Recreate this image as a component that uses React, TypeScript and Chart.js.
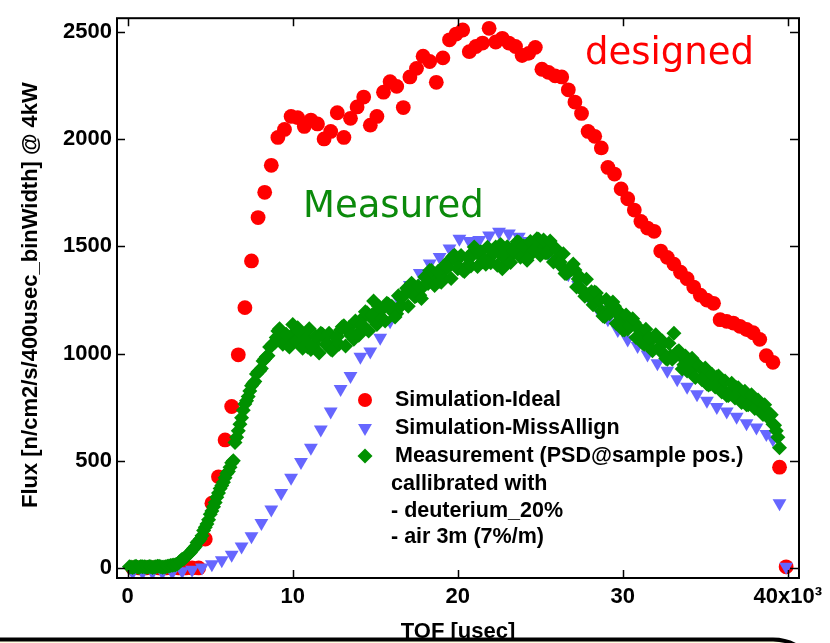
import React, { useEffect, useRef } from 'react';
import { Chart, registerables } from 'chart.js';

Chart.register(...registerables);

const xTickValues = [0, 10000, 20000, 30000, 40000];
const xTickLabels = ['0', '10', '20', '30', '40x10³'];
const yTickValues = [0, 500, 1000, 1500, 2000, 2500];
const yTickLabels = ['0', '500', '1000', '1500', '2000', '2500'];

const xTitle = 'TOF [usec]';
const yTitle = 'Flux [n/cm2/s/400usec_binWidth] @ 4kW';

// Simulation-Ideal (red circles)
const idealX = [300, 700, 1100, 1500, 1900, 2300, 2700, 3100, 3500, 3900, 4300, 4700, 5100, 5500, 5900, 6300, 6700, 7100, 7500, 7900, 8300, 8700, 9100, 9500, 9900, 10300, 10700, 11100, 11500, 11900, 12300, 12700, 13100, 13500, 13900, 14300, 14700, 15100, 15500, 15900, 16300, 16700, 17100, 17500, 17900, 18300, 18700, 19100, 19500, 19900, 20300, 20700, 21100, 21500, 21900, 22300, 22700, 23100, 23500, 23900, 24300, 24700, 25100, 25500, 25900, 26300, 26700, 27100, 27500, 27900, 28300, 28700, 29100, 29500, 29900, 30300, 30700, 31100, 31500, 31900, 32300, 32700, 33100, 33500, 33900, 34300, 34700, 35100, 35500, 35900, 36300, 36700, 37100, 37500, 37900, 38300, 38700, 39100, 39500, 39900];
const idealY = [0, 0, 0, 0, 0, 0, 0, 0, 0, 0, 0,
  135, 302, 425, 597, 753, 994, 1214, 1432, 1634, 1752,
  1878, 2008, 2045, 2106, 2100, 2059, 2089, 2071, 2001, 2036,
  2123, 2008, 2097, 2150, 2196, 2065, 2106, 2219, 2268, 2246,
  2147, 2290, 2330, 2387, 2362, 2265, 2379, 2463, 2490, 2509,
  2408, 2432, 2448, 2517, 2453, 2470, 2448, 2432, 2390, 2400,
  2428, 2326, 2311, 2295, 2290, 2230, 2173, 2120, 2036, 2013,
  1959, 1868, 1837, 1768, 1722, 1669, 1616, 1585, 1570, 1478,
  1448, 1417, 1379, 1349, 1310, 1272, 1249, 1234, 1158, 1150,
  1142, 1127, 1112, 1097, 1066, 990, 959, 470, 5];

// Simulation-MissAllign (blue triangles)
const missX = [300, 900, 1500, 2100, 2700, 3300, 3900, 4500, 5100, 5700, 6300, 6900, 7500, 8100, 8700, 9300, 9900, 10500, 11100, 11700, 12300, 12900, 13500, 14100, 14700, 15300, 15900, 16500, 17100, 17700, 18300, 18900, 19500, 20100, 20700, 21300, 21900, 22500, 23100, 23700, 24300, 24900, 25500, 26100, 26700, 27300, 27900, 28500, 29100, 29700, 30300, 30900, 31500, 32100, 32700, 33300, 33900, 34500, 35100, 35700, 36300, 36900, 37500, 38100, 38700, 39100, 39500, 39900];
const missY = [-20, -20, -20, -20, -20, -15, -8, 2, 17, 36,
  62, 100, 148, 210, 272, 350, 420, 494, 560, 646,
  730, 835, 895, 985, 1010, 1074, 1150, 1240, 1320, 1375,
  1420, 1450, 1490, 1535, 1525, 1530, 1550, 1568, 1560, 1545,
  1525, 1500, 1465, 1420, 1370, 1320, 1265, 1205, 1160, 1110,
  1065, 1035, 995, 955, 920, 880, 845, 810, 780, 750,
  730, 705, 675, 655, 625, 600, 302, 5];

// Measurement (green diamonds), odd 100-usec bins
const measXA = [100, 300, 500, 700, 900, 1100, 1300, 1500, 1700, 1900, 2100, 2300, 2500, 2700, 2900, 3100, 3300, 3500, 3700, 3900, 4100, 4300, 4500, 4700, 4900, 5100, 5300, 5500, 5700, 5900, 6100, 6300, 6500, 6700, 6900, 7100, 7300, 7500, 7700, 7900, 8100, 8300, 8500, 8700, 8900, 9100, 9300, 9500, 9700, 9900,
  10100, 10300, 10500, 10700, 10900, 11100, 11300, 11500, 11700, 11900, 12100, 12300, 12500, 12700, 12900, 13100, 13300, 13500, 13700, 13900, 14100, 14300, 14500, 14700, 14900, 15100, 15300, 15500, 15700, 15900, 16100, 16300, 16500, 16700, 16900, 17100, 17300, 17500, 17700, 17900, 18100, 18300, 18500, 18700, 18900, 19100, 19300, 19500, 19700, 19900,
  20100, 20300, 20500, 20700, 20900, 21100, 21300, 21500, 21700, 21900, 22100, 22300, 22500, 22700, 22900, 23100, 23300, 23500, 23700, 23900, 24100, 24300, 24500, 24700, 24900, 25100, 25300, 25500, 25700, 25900, 26100, 26300, 26500, 26700, 26900, 27100, 27300, 27500, 27700, 27900, 28100, 28300, 28500, 28700, 28900, 29100, 29300, 29500, 29700, 29900,
  30100, 30300, 30500, 30700, 30900, 31100, 31300, 31500, 31700, 31900, 32100, 32300, 32500, 32700, 32900, 33100, 33300, 33500, 33700, 33900, 34100, 34300, 34500, 34700, 34900, 35100, 35300, 35500, 35700, 35900, 36100, 36300, 36500, 36700, 36900, 37100, 37300, 37500, 37700, 37900, 38100, 38300, 38500, 38700, 38900, 39100, 39300, 39500];
const measYA = [5, 2, 8, 3, 6, 4, 7, 2, 5, 8, 3, 6, 9, 12, 15,
  25, 40, 50, 65, 82, 100, 125, 150, 190, 225, 265, 305, 350, 385, 420, 450, 490,
  585, 640, 700, 765, 800, 850, 870, 915, 930, 975, 990, 1035, 1050,
  1105, 1088, 1060, 1040, 1065, 1098, 1120, 1090, 1058, 1031, 1019, 1045, 1073, 1095, 1077, 1045, 1020, 1040, 1078, 1110,
  1130, 1110, 1085, 1067, 1090, 1130, 1170, 1190, 1170, 1245, 1135, 1170, 1212, 1235, 1215, 1190, 1185, 1220, 1267, 1305,
  1308, 1290, 1270, 1272, 1312, 1357, 1387, 1372, 1347, 1337, 1357, 1397, 1435, 1453, 1430, 1402, 1388, 1403, 1443, 1472,
  1486, 1460, 1428,
  1416, 1443, 1480, 1497, 1469, 1395, 1438, 1430, 1463, 1501, 1519, 1497, 1465, 1453, 1482, 1520, 1533, 1510, 1470, 1475,
  1492, 1493, 1452, 1405, 1373, 1380, 1392, 1390, 1348, 1300, 1267, 1275, 1288, 1287, 1248, 1200, 1172, 1190, 1220, 1220,
  1183, 1141, 1110, 1113, 1132, 1145, 1118, 1078, 1043, 1043, 1063, 1078, 1073, 1038, 998, 973, 988, 1095, 1008, 988,
  948, 918, 918, 938, 948, 933, 893, 858, 858, 879, 890, 871, 832, 804, 811, 833, 840, 817, 779, 761,
  778, 793, 773, 738, 716, 727, 720, 670, 640, 560];

// Measurement (green diamonds), even 100-usec bins
const measXB = [200, 400, 600, 800, 1000, 1200, 1400, 1600, 1800, 2000, 2200, 2400, 2600, 2800, 3000, 3200, 3400, 3600, 3800, 4000, 4200, 4400, 4600, 4800, 5000, 5200, 5400, 5600, 5800, 6000, 6200, 6400, 6600, 6800, 7000, 7200, 7400, 7600, 7800, 8000, 8200, 8400, 8600, 8800, 9000,
  9200, 9400, 9600, 9800, 10000, 10200, 10400, 10600, 10800, 11000, 11200, 11400, 11600, 11800, 12000, 12200, 12400, 12600, 12800, 13000, 13200, 13400, 13600, 13800, 14000, 14200, 14400, 14600, 14800, 15000, 15200, 15400, 15600, 15800, 16000, 16200, 16400, 16600, 16800, 17000, 17200, 17400, 17600, 17800, 18000, 18200, 18400, 18600, 18800, 19000, 19200, 19400, 19600, 19800, 20000,
  20200, 20400, 20600, 20800, 21000, 21200, 21400, 21600, 21800, 22000, 22200, 22400, 22600, 22800, 23000, 23200, 23400, 23600, 23800, 24000, 24200, 24400, 24600, 24800, 25000, 25200, 25400, 25600, 25800, 26000, 26200, 26400, 26600, 26800, 27000, 27200, 27400, 27600, 27800, 28000, 28200, 28400, 28600, 28800, 29000, 29200, 29400, 29600, 29800, 30000,
  30200, 30400, 30600, 30800, 31000, 31200, 31400, 31600, 31800, 32000, 32200, 32400, 32600, 32800, 33000, 33200, 33400, 33600, 33800, 34000, 34200, 34400, 34600, 34800, 35000, 35200, 35400, 35600, 35800, 36000, 36200, 36400, 36600, 36800, 37000, 37200, 37400, 37600, 37800, 38000, 38200, 38400, 38600, 38800, 39000, 39200, 39400];
const measYB = [4, 6, 3, 7, 5, 3, 6, 4, 8, 5, 4, 8, 11, 14, 18, 33, 42, 58, 72, 92, 118, 135, 175, 205, 250, 285, 330, 370, 400, 440, 470, 500, 610, 670, 735, 780, 825, 860, 905, 920, 965, 985, 1030, 1045, 1075,
  1115, 1043, 1090, 1030, 1135, 1058, 1105, 1025, 1073, 1116, 1034, 1080, 1003, 1090, 1042, 1095, 1015, 1075, 1043, 1125,
  1035, 1120, 1090, 1152, 1085, 1135, 1195, 1105, 1180, 1190, 1220, 1165, 1152, 1230, 1220, 1170, 1270, 1225, 1277, 1220,
  1328, 1265, 1315, 1257, 1357, 1327, 1387, 1317, 1382, 1332, 1412, 1402, 1350, 1458, 1395, 1457, 1383, 1448, 1408, 1497,
  1406, 1475, 1433,
  1496, 1423, 1470, 1412, 1509, 1470, 1498, 1425, 1478, 1521, 1449, 1502, 1435, 1523, 1482, 1535, 1458, 1530, 1470, 1525,
  1427, 1483, 1427, 1465, 1373, 1395, 1417, 1310, 1358, 1290, 1347, 1265, 1228, 1282, 1248, 1175, 1252, 1185, 1240, 1140,
  1193, 1111, 1180, 1128, 1162, 1075, 1118, 1048, 1113, 1073, 1013, 1088, 1018, 1058, 978, 1048, 973, 990, 1013, 928,
  988, 938, 978, 888, 943, 878, 933, 853, 903, 844, 895, 821, 872, 804, 861, 793, 840, 772, 824, 761,
  808, 743, 783, 728, 761, 702, 715, 665, 610];

const legendLabels = ['Simulation-Ideal', 'Simulation-MissAllign', 'Measurement (PSD@sample pos.)'];
const noteLines = ['callibrated with', '- deuterium_20%', '- air 3m (7%/m)'];
const annotDesigned = 'designed';
const annotMeasured = 'Measured';

const RED = '#ff0000';
const BLUE = '#6666ff';
const GREEN = '#009100';
const FONT = '"Liberation Sans", Arial, sans-serif';

function drawTriangleDown(ctx: CanvasRenderingContext2D, x: number, y: number, r: number) {
  ctx.beginPath();
  ctx.moveTo(x, y + r);
  ctx.lineTo(x - r * Math.sin(Math.PI / 3), y - r / 2);
  ctx.lineTo(x + r * Math.sin(Math.PI / 3), y - r / 2);
  ctx.closePath();
  ctx.fill();
}

const decorPlugin = {
  id: 'decor',
  afterDraw(chart: any) {
    const ctx: CanvasRenderingContext2D = chart.ctx;
    const { left, right, top, bottom } = chart.chartArea;
    const xs = chart.scales.x;
    const ys = chart.scales.y;
    ctx.save();
    // frame
    ctx.strokeStyle = '#000';
    ctx.lineWidth = 2;
    ctx.strokeRect(left, top, right - left, bottom - top);
    // inward ticks
    ctx.lineWidth = 1.5;
    ctx.beginPath();
    for (const v of xTickValues) {
      const px = Math.round(xs.getPixelForValue(v)) + 0.5;
      ctx.moveTo(px, bottom); ctx.lineTo(px, bottom - 8);
      ctx.moveTo(px, top); ctx.lineTo(px, top + 8);
    }
    for (const v of yTickValues) {
      const py = Math.round(ys.getPixelForValue(v)) + 0.5;
      ctx.moveTo(left, py); ctx.lineTo(left + 8, py);
      ctx.moveTo(right, py); ctx.lineTo(right - 9, py);
    }
    ctx.stroke();

    // annotations
    ctx.textAlign = 'left';
    ctx.textBaseline = 'alphabetic';
    ctx.font = '37px "DejaVu Sans", sans-serif';
    ctx.fillStyle = RED;
    ctx.fillText(annotDesigned, 585, 64);
    ctx.fillStyle = '#0b8a0b';
    ctx.fillText(annotMeasured, 303, 217);

    // legend
    const lx = 365;
    const ly = [400, 428, 456];
    ctx.fillStyle = RED;
    ctx.beginPath(); ctx.arc(lx, ly[0], 7, 0, Math.PI * 2); ctx.fill();
    ctx.fillStyle = BLUE;
    drawTriangleDown(ctx, lx, ly[1], 8);
    ctx.fillStyle = GREEN;
    ctx.beginPath();
    ctx.moveTo(lx, ly[2] - 7.5); ctx.lineTo(lx + 7.5, ly[2]); ctx.lineTo(lx, ly[2] + 7.5); ctx.lineTo(lx - 7.5, ly[2]);
    ctx.closePath(); ctx.fill();

    ctx.fillStyle = '#000';
    ctx.font = 'bold 21.5px ' + FONT;
    ctx.textBaseline = 'middle';
    legendLabels.forEach((t, i) => ctx.fillText(t, 395, ly[i]));
    const ny = [484, 511, 537];
    noteLines.forEach((t, i) => ctx.fillText(t, 391, ny[i]));

    // axis titles
    ctx.font = 'bold 22px ' + FONT;
    ctx.textAlign = 'center';
    ctx.fillText(xTitle, (left + right) / 2, 632);
    ctx.save();
    ctx.translate(31, (top + bottom) / 2 - 3);
    ctx.rotate(-Math.PI / 2);
    ctx.fillText(yTitle, 0, 0);
    ctx.restore();

    // bottom slide frame
    ctx.beginPath();
    ctx.moveTo(-5, 639.5);
    ctx.arcTo(820, 639.5, 820, 720, 47);
    ctx.lineTo(820, 720);
    ctx.lineTo(-5, 720);
    ctx.closePath();
    ctx.fillStyle = '#ffffe2';
    ctx.fill();
    ctx.beginPath();
    ctx.moveTo(-5, 639.5);
    ctx.arcTo(820, 639.5, 820, 720, 47);
    ctx.lineTo(820, 720);
    ctx.strokeStyle = '#000';
    ctx.lineWidth = 4;
    ctx.stroke();
    ctx.restore();
  },
};

export default function App() {
  const ref = useRef<HTMLCanvasElement | null>(null);
  useEffect(() => {
    if (!ref.current) return;
    const tickFont = { family: FONT, size: 22, weight: 'bold' as const };
    const measData = [
      ...measXA.map((x, i) => ({ x, y: measYA[i] })),
      ...measXB.map((x, i) => ({ x, y: measYB[i] })),
    ];
    const chart = new Chart(ref.current, {
      type: 'scatter',
      data: {
        datasets: [
          {
            label: legendLabels[2],
            data: measData,
            pointStyle: 'rectRot',
            pointRadius: 7.5,
            pointBorderWidth: 0,
            backgroundColor: GREEN,
            borderColor: GREEN,
            order: 0,
          },
          {
            label: legendLabels[1],
            data: missX.map((x, i) => ({ x, y: missY[i] })),
            pointStyle: 'triangle',
            rotation: 180,
            pointRadius: 8,
            pointBorderWidth: 0,
            backgroundColor: BLUE,
            borderColor: BLUE,
            order: 1,
          },
          {
            label: legendLabels[0],
            data: idealX.map((x, i) => ({ x, y: idealY[i] })),
            pointStyle: 'circle',
            pointRadius: 7.4,
            pointBorderWidth: 0,
            backgroundColor: RED,
            borderColor: RED,
            order: 2,
          },
        ],
      },
      options: {
        responsive: false,
        animation: false,
        devicePixelRatio: 1,
        layout: { padding: { top: 8, right: 31, left: 0, bottom: 0 } },
        plugins: { legend: { display: false }, tooltip: { enabled: false } },
        scales: {
          x: {
            type: 'linear',
            min: -650,
            max: 40680,
            afterBuildTicks: (s: any) => { s.ticks = xTickValues.map((v) => ({ value: v })); },
            afterFit: (s: any) => { s.height = 65; },
            grid: { display: false, drawTicks: false },
            border: { display: false },
            ticks: {
              autoSkip: false,
              maxRotation: 0,
              padding: 6,
              color: '#000',
              font: tickFont,
              callback: (v: any) => { const i = xTickValues.indexOf(Number(v)); return i >= 0 ? xTickLabels[i] : ''; },
            },
          },
          y: {
            type: 'linear',
            min: -47,
            max: 2564,
            afterBuildTicks: (s: any) => { s.ticks = yTickValues.map((v) => ({ value: v })); },
            afterFit: (s: any) => { s.width = 117; },
            grid: { display: false, drawTicks: false },
            border: { display: false },
            ticks: {
              autoSkip: false,
              padding: 5,
              color: '#000',
              font: tickFont,
              callback: (v: any) => { const i = yTickValues.indexOf(Number(v)); return i >= 0 ? yTickLabels[i] : ''; },
            },
          },
        },
      },
      plugins: [decorPlugin],
    });
    return () => chart.destroy();
  }, []);
  return (
    <div style={{ position: 'absolute', left: 0, top: 0, width: 830, height: 643, background: '#fff' }}>
      <canvas ref={ref} width={830} height={643} style={{ display: 'block' }} />
    </div>
  );
}
